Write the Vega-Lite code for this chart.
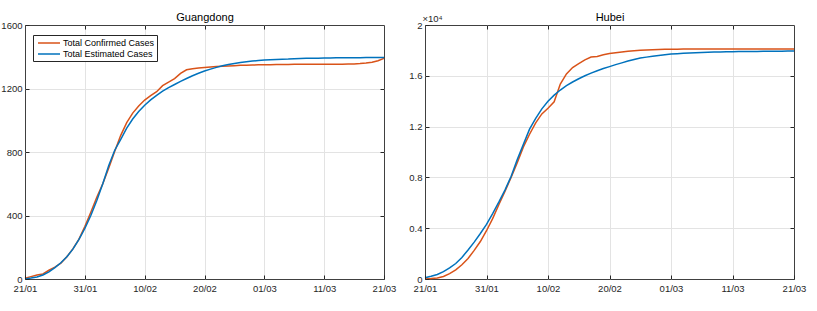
{
  "$schema": "https://vega.github.io/schema/vega-lite/v6.json",
  "padding": {"left": 0, "top": 10, "right": 0, "bottom": 0},
  "bounds": "flush",
  "spacing": 41,
  "config": {
    "font": "Liberation Sans",
    "view": {"stroke": "#404040", "strokeWidth": 1},
    "axis": {
      "labelFont": "Liberation Sans",
      "labelFontSize": 9.5,
      "labelColor": "#262626",
      "tickColor": "#262626",
      "tickSize": -4,
      "domain": false,
      "gridColor": "#e3e3e3",
      "gridWidth": 1,
      "labelFlush": false,
      "labelOverlap": false
    },
    "legend": {
      "strokeColor": "#262626",
      "fillColor": "white",
      "padding": 2,
      "labelFont": "Liberation Sans",
      "labelFontSize": 9,
      "labelColor": "#000000",
      "symbolType": "M-2.2,0H2.2",
      "symbolSize": 100,
      "symbolStrokeWidth": 1.5,
      "symbolOffset": 8,
      "rowPadding": 0,
      "labelOffset": 8
    }
  },
  "datasets": {
    "guangdong": [
      {"date": "2020-01-21", "Total Confirmed Cases": 5, "Total Estimated Cases": 0},
      {"date": "2020-01-22", "Total Confirmed Cases": 15, "Total Estimated Cases": 6},
      {"date": "2020-01-23", "Total Confirmed Cases": 25, "Total Estimated Cases": 13},
      {"date": "2020-01-24", "Total Confirmed Cases": 32, "Total Estimated Cases": 25},
      {"date": "2020-01-25", "Total Confirmed Cases": 55, "Total Estimated Cases": 45},
      {"date": "2020-01-26", "Total Confirmed Cases": 75, "Total Estimated Cases": 72},
      {"date": "2020-01-27", "Total Confirmed Cases": 100, "Total Estimated Cases": 102},
      {"date": "2020-01-28", "Total Confirmed Cases": 140, "Total Estimated Cases": 140},
      {"date": "2020-01-29", "Total Confirmed Cases": 190, "Total Estimated Cases": 188},
      {"date": "2020-01-30", "Total Confirmed Cases": 250, "Total Estimated Cases": 248},
      {"date": "2020-01-31", "Total Confirmed Cases": 330, "Total Estimated Cases": 318},
      {"date": "2020-02-01", "Total Confirmed Cases": 420, "Total Estimated Cases": 400},
      {"date": "2020-02-02", "Total Confirmed Cases": 515, "Total Estimated Cases": 495},
      {"date": "2020-02-03", "Total Confirmed Cases": 600, "Total Estimated Cases": 600},
      {"date": "2020-02-04", "Total Confirmed Cases": 700, "Total Estimated Cases": 715},
      {"date": "2020-02-05", "Total Confirmed Cases": 805, "Total Estimated Cases": 811},
      {"date": "2020-02-06", "Total Confirmed Cases": 905, "Total Estimated Cases": 880},
      {"date": "2020-02-07", "Total Confirmed Cases": 985, "Total Estimated Cases": 950},
      {"date": "2020-02-08", "Total Confirmed Cases": 1045, "Total Estimated Cases": 1008},
      {"date": "2020-02-09", "Total Confirmed Cases": 1090, "Total Estimated Cases": 1055},
      {"date": "2020-02-10", "Total Confirmed Cases": 1127, "Total Estimated Cases": 1095},
      {"date": "2020-02-11", "Total Confirmed Cases": 1155, "Total Estimated Cases": 1128},
      {"date": "2020-02-12", "Total Confirmed Cases": 1180, "Total Estimated Cases": 1157},
      {"date": "2020-02-13", "Total Confirmed Cases": 1218, "Total Estimated Cases": 1183},
      {"date": "2020-02-14", "Total Confirmed Cases": 1240, "Total Estimated Cases": 1205},
      {"date": "2020-02-15", "Total Confirmed Cases": 1262, "Total Estimated Cases": 1225},
      {"date": "2020-02-16", "Total Confirmed Cases": 1295, "Total Estimated Cases": 1245},
      {"date": "2020-02-17", "Total Confirmed Cases": 1318, "Total Estimated Cases": 1263},
      {"date": "2020-02-18", "Total Confirmed Cases": 1325, "Total Estimated Cases": 1280},
      {"date": "2020-02-19", "Total Confirmed Cases": 1329, "Total Estimated Cases": 1296},
      {"date": "2020-02-20", "Total Confirmed Cases": 1332, "Total Estimated Cases": 1310},
      {"date": "2020-02-21", "Total Confirmed Cases": 1335, "Total Estimated Cases": 1322},
      {"date": "2020-02-22", "Total Confirmed Cases": 1338, "Total Estimated Cases": 1333},
      {"date": "2020-02-23", "Total Confirmed Cases": 1340, "Total Estimated Cases": 1343},
      {"date": "2020-02-24", "Total Confirmed Cases": 1342, "Total Estimated Cases": 1351},
      {"date": "2020-02-25", "Total Confirmed Cases": 1344, "Total Estimated Cases": 1358},
      {"date": "2020-02-26", "Total Confirmed Cases": 1346, "Total Estimated Cases": 1364},
      {"date": "2020-02-27", "Total Confirmed Cases": 1347, "Total Estimated Cases": 1369},
      {"date": "2020-02-28", "Total Confirmed Cases": 1348, "Total Estimated Cases": 1373},
      {"date": "2020-02-29", "Total Confirmed Cases": 1349, "Total Estimated Cases": 1376},
      {"date": "2020-03-01", "Total Confirmed Cases": 1350, "Total Estimated Cases": 1379},
      {"date": "2020-03-02", "Total Confirmed Cases": 1350, "Total Estimated Cases": 1381},
      {"date": "2020-03-03", "Total Confirmed Cases": 1351, "Total Estimated Cases": 1383},
      {"date": "2020-03-04", "Total Confirmed Cases": 1351, "Total Estimated Cases": 1385},
      {"date": "2020-03-05", "Total Confirmed Cases": 1351, "Total Estimated Cases": 1386},
      {"date": "2020-03-06", "Total Confirmed Cases": 1352, "Total Estimated Cases": 1388},
      {"date": "2020-03-07", "Total Confirmed Cases": 1352, "Total Estimated Cases": 1389},
      {"date": "2020-03-08", "Total Confirmed Cases": 1352, "Total Estimated Cases": 1390},
      {"date": "2020-03-09", "Total Confirmed Cases": 1352, "Total Estimated Cases": 1391},
      {"date": "2020-03-10", "Total Confirmed Cases": 1352, "Total Estimated Cases": 1391},
      {"date": "2020-03-11", "Total Confirmed Cases": 1353, "Total Estimated Cases": 1392},
      {"date": "2020-03-12", "Total Confirmed Cases": 1353, "Total Estimated Cases": 1392},
      {"date": "2020-03-13", "Total Confirmed Cases": 1353, "Total Estimated Cases": 1393},
      {"date": "2020-03-14", "Total Confirmed Cases": 1353, "Total Estimated Cases": 1393},
      {"date": "2020-03-15", "Total Confirmed Cases": 1354, "Total Estimated Cases": 1394},
      {"date": "2020-03-16", "Total Confirmed Cases": 1355, "Total Estimated Cases": 1394},
      {"date": "2020-03-17", "Total Confirmed Cases": 1357, "Total Estimated Cases": 1394},
      {"date": "2020-03-18", "Total Confirmed Cases": 1361, "Total Estimated Cases": 1395},
      {"date": "2020-03-19", "Total Confirmed Cases": 1366, "Total Estimated Cases": 1395},
      {"date": "2020-03-20", "Total Confirmed Cases": 1375, "Total Estimated Cases": 1395},
      {"date": "2020-03-21", "Total Confirmed Cases": 1390, "Total Estimated Cases": 1395}
    ],
    "hubei": [
      {"date": "2020-01-21", "Total Confirmed Cases": 0, "Total Estimated Cases": 100},
      {"date": "2020-01-22", "Total Confirmed Cases": 30, "Total Estimated Cases": 220},
      {"date": "2020-01-23", "Total Confirmed Cases": 80, "Total Estimated Cases": 360},
      {"date": "2020-01-24", "Total Confirmed Cases": 200, "Total Estimated Cases": 580},
      {"date": "2020-01-25", "Total Confirmed Cases": 420, "Total Estimated Cases": 870},
      {"date": "2020-01-26", "Total Confirmed Cases": 720, "Total Estimated Cases": 1220},
      {"date": "2020-01-27", "Total Confirmed Cases": 1120, "Total Estimated Cases": 1700},
      {"date": "2020-01-28", "Total Confirmed Cases": 1620, "Total Estimated Cases": 2280},
      {"date": "2020-01-29", "Total Confirmed Cases": 2250, "Total Estimated Cases": 2900},
      {"date": "2020-01-30", "Total Confirmed Cases": 2950, "Total Estimated Cases": 3580},
      {"date": "2020-01-31", "Total Confirmed Cases": 3800, "Total Estimated Cases": 4300},
      {"date": "2020-02-01", "Total Confirmed Cases": 4750, "Total Estimated Cases": 5150},
      {"date": "2020-02-02", "Total Confirmed Cases": 5850, "Total Estimated Cases": 6050},
      {"date": "2020-02-03", "Total Confirmed Cases": 6900, "Total Estimated Cases": 7000},
      {"date": "2020-02-04", "Total Confirmed Cases": 8000, "Total Estimated Cases": 8070},
      {"date": "2020-02-05", "Total Confirmed Cases": 9150, "Total Estimated Cases": 9400},
      {"date": "2020-02-06", "Total Confirmed Cases": 10400, "Total Estimated Cases": 10600},
      {"date": "2020-02-07", "Total Confirmed Cases": 11400, "Total Estimated Cases": 11800},
      {"date": "2020-02-08", "Total Confirmed Cases": 12300, "Total Estimated Cases": 12650},
      {"date": "2020-02-09", "Total Confirmed Cases": 13000, "Total Estimated Cases": 13400},
      {"date": "2020-02-10", "Total Confirmed Cases": 13450, "Total Estimated Cases": 14000},
      {"date": "2020-02-11", "Total Confirmed Cases": 13950, "Total Estimated Cases": 14480},
      {"date": "2020-02-12", "Total Confirmed Cases": 15350, "Total Estimated Cases": 14880},
      {"date": "2020-02-13", "Total Confirmed Cases": 16150, "Total Estimated Cases": 15220},
      {"date": "2020-02-14", "Total Confirmed Cases": 16650, "Total Estimated Cases": 15510},
      {"date": "2020-02-15", "Total Confirmed Cases": 16950, "Total Estimated Cases": 15770},
      {"date": "2020-02-16", "Total Confirmed Cases": 17250, "Total Estimated Cases": 16000},
      {"date": "2020-02-17", "Total Confirmed Cases": 17480, "Total Estimated Cases": 16210},
      {"date": "2020-02-18", "Total Confirmed Cases": 17520, "Total Estimated Cases": 16400},
      {"date": "2020-02-19", "Total Confirmed Cases": 17650, "Total Estimated Cases": 16570},
      {"date": "2020-02-20", "Total Confirmed Cases": 17750, "Total Estimated Cases": 16720},
      {"date": "2020-02-21", "Total Confirmed Cases": 17820, "Total Estimated Cases": 16880},
      {"date": "2020-02-22", "Total Confirmed Cases": 17880, "Total Estimated Cases": 17020},
      {"date": "2020-02-23", "Total Confirmed Cases": 17930, "Total Estimated Cases": 17160},
      {"date": "2020-02-24", "Total Confirmed Cases": 17970, "Total Estimated Cases": 17290},
      {"date": "2020-02-25", "Total Confirmed Cases": 18010, "Total Estimated Cases": 17400},
      {"date": "2020-02-26", "Total Confirmed Cases": 18040, "Total Estimated Cases": 17470},
      {"date": "2020-02-27", "Total Confirmed Cases": 18060, "Total Estimated Cases": 17540},
      {"date": "2020-02-28", "Total Confirmed Cases": 18075, "Total Estimated Cases": 17600},
      {"date": "2020-02-29", "Total Confirmed Cases": 18085, "Total Estimated Cases": 17660},
      {"date": "2020-03-01", "Total Confirmed Cases": 18095, "Total Estimated Cases": 17710},
      {"date": "2020-03-02", "Total Confirmed Cases": 18100, "Total Estimated Cases": 17740},
      {"date": "2020-03-03", "Total Confirmed Cases": 18105, "Total Estimated Cases": 17770},
      {"date": "2020-03-04", "Total Confirmed Cases": 18105, "Total Estimated Cases": 17800},
      {"date": "2020-03-05", "Total Confirmed Cases": 18110, "Total Estimated Cases": 17820},
      {"date": "2020-03-06", "Total Confirmed Cases": 18110, "Total Estimated Cases": 17840},
      {"date": "2020-03-07", "Total Confirmed Cases": 18110, "Total Estimated Cases": 17860},
      {"date": "2020-03-08", "Total Confirmed Cases": 18112, "Total Estimated Cases": 17870},
      {"date": "2020-03-09", "Total Confirmed Cases": 18112, "Total Estimated Cases": 17880},
      {"date": "2020-03-10", "Total Confirmed Cases": 18114, "Total Estimated Cases": 17890},
      {"date": "2020-03-11", "Total Confirmed Cases": 18115, "Total Estimated Cases": 17900},
      {"date": "2020-03-12", "Total Confirmed Cases": 18115, "Total Estimated Cases": 17905},
      {"date": "2020-03-13", "Total Confirmed Cases": 18115, "Total Estimated Cases": 17910},
      {"date": "2020-03-14", "Total Confirmed Cases": 18116, "Total Estimated Cases": 17915},
      {"date": "2020-03-15", "Total Confirmed Cases": 18117, "Total Estimated Cases": 17920},
      {"date": "2020-03-16", "Total Confirmed Cases": 18118, "Total Estimated Cases": 17925},
      {"date": "2020-03-17", "Total Confirmed Cases": 18118, "Total Estimated Cases": 17930},
      {"date": "2020-03-18", "Total Confirmed Cases": 18119, "Total Estimated Cases": 17935},
      {"date": "2020-03-19", "Total Confirmed Cases": 18120, "Total Estimated Cases": 17940},
      {"date": "2020-03-20", "Total Confirmed Cases": 18120, "Total Estimated Cases": 17945},
      {"date": "2020-03-21", "Total Confirmed Cases": 18120, "Total Estimated Cases": 17950}
    ]
  },
  "hconcat": [
    {
      "width": 359,
      "height": 254,
      "data": {"name": "guangdong"},
      "transform": [{"fold": ["Total Confirmed Cases", "Total Estimated Cases"], "as": ["series", "cases"]}],
      "layer": [
        {
          "mark": {"type": "line", "opacity": 0},
          "encoding": {
            "x": {"field": "date", "type": "temporal",
              "scale": {"type": "utc", "domain": [{"year": 2020, "month": 1, "date": 21, "utc": true}, {"year": 2020, "month": 3, "date": 21, "utc": true}]},
              "axis": {"orient": "top", "labels": false, "grid": true, "zindex": 0,
                "title": "Guangdong", "titleX": 179.5, "titleY": -8, "titleAlign": "center", "titleBaseline": "middle", "titleAngle": 0,
                "titleFont": "Liberation Sans", "titleFontSize": 11, "titleFontWeight": "normal", "titleColor": "#000000",
                "values": [{"year": 2020, "month": 1, "date": 31, "utc": true}, {"year": 2020, "month": 2, "date": 10, "utc": true}, {"year": 2020, "month": 2, "date": 20, "utc": true}, {"year": 2020, "month": 3, "date": 1, "utc": true}, {"year": 2020, "month": 3, "date": 11, "utc": true}]}},
            "y": {"field": "cases", "type": "quantitative", "scale": {"domain": [0, 1600]},
              "axis": {"orient": "right", "title": null, "labels": false, "grid": true, "zindex": 0, "values": [400, 800, 1200]}},
            "detail": {"field": "series"}
          }
        },
        {
          "mark": {"type": "line", "strokeWidth": 1.5},
          "encoding": {
            "x": {"field": "date", "type": "temporal",
              "axis": {"orient": "bottom", "title": null, "grid": false, "zindex": 1, "labelExpr": "utcFormat(datum.value, '%d/%m')", "labelPadding": 8,
                "values": [{"year": 2020, "month": 1, "date": 21, "utc": true}, {"year": 2020, "month": 1, "date": 31, "utc": true}, {"year": 2020, "month": 2, "date": 10, "utc": true}, {"year": 2020, "month": 2, "date": 20, "utc": true}, {"year": 2020, "month": 3, "date": 1, "utc": true}, {"year": 2020, "month": 3, "date": 11, "utc": true}, {"year": 2020, "month": 3, "date": 21, "utc": true}]}},
            "y": {"field": "cases", "type": "quantitative",
              "axis": {"orient": "left", "title": null, "grid": false, "zindex": 1, "labelPadding": 7, "values": [0, 400, 800, 1200, 1600], "labelExpr": "datum.value + ''"}},
            "color": {"field": "series", "type": "nominal",
              "scale": {"domain": ["Total Confirmed Cases", "Total Estimated Cases"], "range": ["#D95319", "#0072BD"]},
              "legend": {"title": null, "orient": "none", "legendX": 8, "legendY": 10}}
          }
        }
      ],
      "resolve": {"axis": {"x": "independent", "y": "independent"}}
    },
    {
      "width": 369,
      "height": 254,
      "data": {"name": "hubei"},
      "transform": [{"fold": ["Total Confirmed Cases", "Total Estimated Cases"], "as": ["series", "cases"]}],
      "layer": [
        {
          "mark": {"type": "line", "opacity": 0},
          "encoding": {
            "x": {"field": "date", "type": "temporal",
              "scale": {"type": "utc", "domain": [{"year": 2020, "month": 1, "date": 21, "utc": true}, {"year": 2020, "month": 3, "date": 21, "utc": true}]},
              "axis": {"orient": "top", "labels": false, "grid": true, "zindex": 0,
                "title": "Hubei", "titleX": 184.5, "titleY": -8, "titleAlign": "center", "titleBaseline": "middle", "titleAngle": 0,
                "titleFont": "Liberation Sans", "titleFontSize": 11, "titleFontWeight": "normal", "titleColor": "#000000",
                "values": [{"year": 2020, "month": 1, "date": 31, "utc": true}, {"year": 2020, "month": 2, "date": 10, "utc": true}, {"year": 2020, "month": 2, "date": 20, "utc": true}, {"year": 2020, "month": 3, "date": 1, "utc": true}, {"year": 2020, "month": 3, "date": 11, "utc": true}]}},
            "y": {"field": "cases", "type": "quantitative", "scale": {"domain": [0, 20000]},
              "axis": {"orient": "right", "title": null, "labels": false, "grid": true, "zindex": 0, "values": [4000, 8000, 12000, 16000]}},
            "detail": {"field": "series"}
          }
        },
        {
          "mark": {"type": "line", "strokeWidth": 1.5},
          "encoding": {
            "x": {"field": "date", "type": "temporal",
              "axis": {"orient": "bottom", "title": null, "grid": false, "zindex": 1, "labelExpr": "utcFormat(datum.value, '%d/%m')", "labelPadding": 8,
                "values": [{"year": 2020, "month": 1, "date": 21, "utc": true}, {"year": 2020, "month": 1, "date": 31, "utc": true}, {"year": 2020, "month": 2, "date": 10, "utc": true}, {"year": 2020, "month": 2, "date": 20, "utc": true}, {"year": 2020, "month": 3, "date": 1, "utc": true}, {"year": 2020, "month": 3, "date": 11, "utc": true}, {"year": 2020, "month": 3, "date": 21, "utc": true}]}},
            "y": {"field": "cases", "type": "quantitative",
              "axis": {"orient": "left", "grid": false, "zindex": 1, "labelPadding": 7, "values": [0, 4000, 8000, 12000, 16000, 20000],
                "labelExpr": "datum.value / 10000 + ''",
                "title": "×10⁴", "titleAngle": 0, "titleAlign": "left", "titleBaseline": "alphabetic", "titleX": -3, "titleY": -4,
                "titleFontSize": 9.5, "titleFontWeight": "normal", "titleColor": "#262626", "titleFont": "Liberation Sans"}},
            "color": {"field": "series", "type": "nominal",
              "scale": {"domain": ["Total Confirmed Cases", "Total Estimated Cases"], "range": ["#D95319", "#0072BD"]},
              "legend": {"title": null, "orient": "none", "legendX": 9, "legendY": 10}}
          }
        }
      ],
      "resolve": {"axis": {"x": "independent", "y": "independent"}}
    }
  ]
}
